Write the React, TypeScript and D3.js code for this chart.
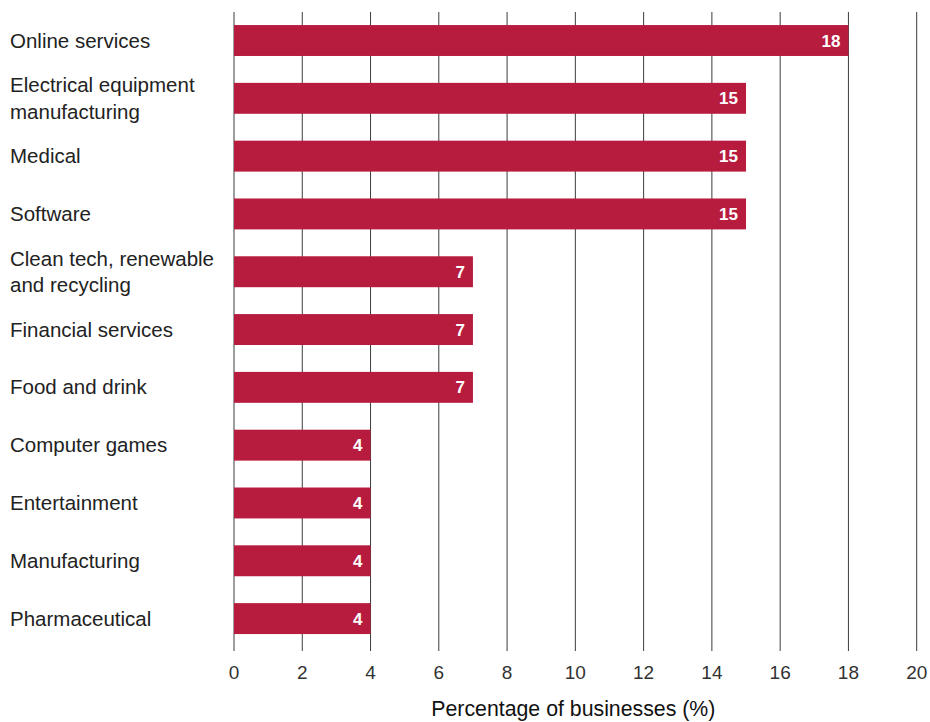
import React from "react";
import * as d3 from "d3";

const categories: string[][] = [
  ["Online services"],
  ["Electrical equipment", "manufacturing"],
  ["Medical"],
  ["Software"],
  ["Clean tech, renewable", "and recycling"],
  ["Financial services"],
  ["Food and drink"],
  ["Computer games"],
  ["Entertainment"],
  ["Manufacturing"],
  ["Pharmaceutical"],
];
const values: number[] = [18, 15, 15, 15, 7, 7, 7, 4, 4, 4, 4];
const xTicks: number[] = [0, 2, 4, 6, 8, 10, 12, 14, 16, 18, 20];
const xTitle = "Percentage of businesses (%)";

const W = 930;
const H = 722;
const FONT = "'Liberation Sans', Arial, Helvetica, sans-serif";

export default function App() {
  const x = d3.scaleLinear().domain([0, 20]).range([234, 916.7]);
  const keys = categories.map((_, i) => String(i));
  const y = d3
    .scaleBand<string>()
    .domain(keys)
    .range([10.6, 648.5])
    .paddingInner(0.465)
    .paddingOuter(0.25);
  const bw = y.bandwidth();
  const gridTop = 12;
  const gridBottom = 651;

  return (
    <svg
      width={W}
      height={H}
      style={{ position: "absolute", left: 0, top: 0, display: "block", background: "#fff" }}
      fontFamily={FONT}
    >
      <g>
        {xTicks.map((t) => (
          <line
            key={t}
            x1={x(t)}
            x2={x(t)}
            y1={gridTop}
            y2={gridBottom}
            stroke="#3c3c3c"
            strokeWidth={1}
          />
        ))}
      </g>
      <g>
        {values.map((v, i) => {
          const y0 = y(String(i)) as number;
          return (
            <g key={i}>
              <rect x={x(0)} y={y0} width={x(v) - x(0)} height={bw} fill="#B71C3E" />
              <text
                x={x(v) - 8}
                y={y0 + bw / 2 + 6}
                textAnchor="end"
                fill="#fff"
                fontSize={17}
                fontWeight="bold"
              >
                {v}
              </text>
            </g>
          );
        })}
      </g>
      <g>
        {categories.map((lines, i) => {
          const c = (y(String(i)) as number) + bw / 2;
          const start = lines.length === 1 ? c + 7 : c - 6;
          return (
            <text key={i} x={10} fill="#222" fontSize={20.5}>
              {lines.map((l, j) => (
                <tspan key={j} x={10} y={start + j * 26.5}>
                  {l}
                </tspan>
              ))}
            </text>
          );
        })}
      </g>
      <g>
        {xTicks.map((t) => (
          <text key={t} x={x(t)} y={679} textAnchor="middle" fill="#333" fontSize={19}>
            {t}
          </text>
        ))}
      </g>
      <text x={(x(0) + x(20)) / 2 - 2} y={716} textAnchor="middle" fill="#111" fontSize={21.3}>
        {xTitle}
      </text>
    </svg>
  );
}
